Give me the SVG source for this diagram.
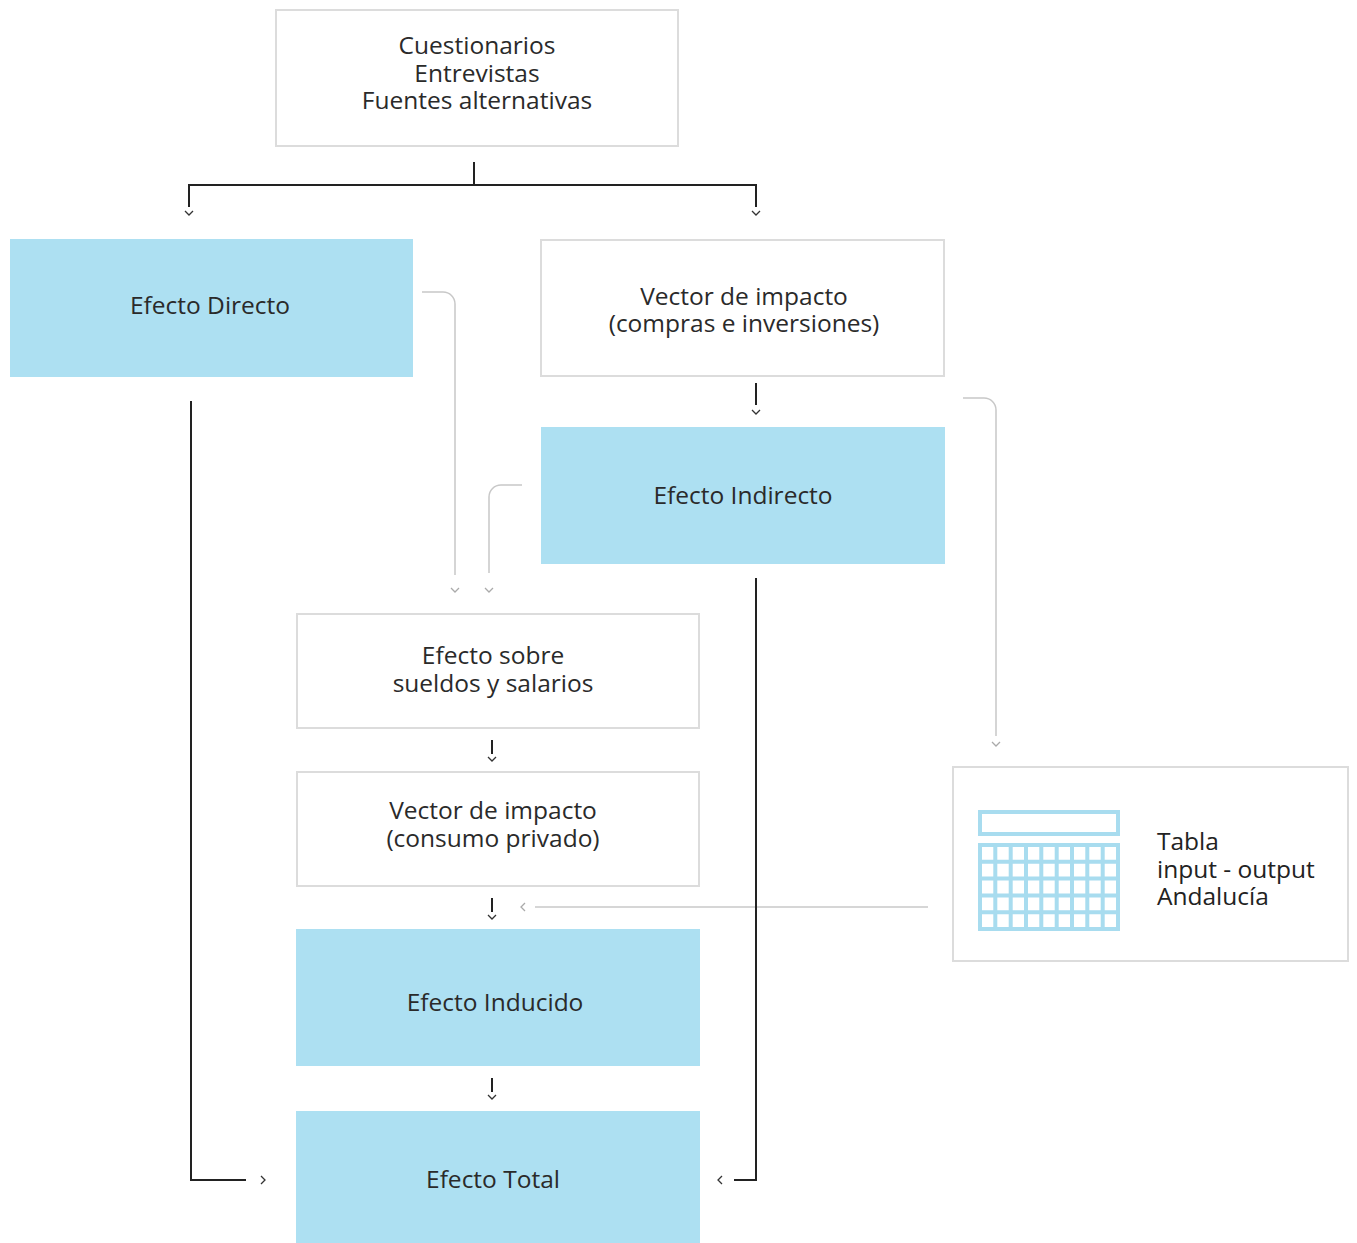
<svg xmlns="http://www.w3.org/2000/svg" width="1357" height="1243" viewBox="0 0 1357 1243">
<style>
.box{fill:#fff;stroke:#dcdcdc;stroke-width:2}
.blue{fill:#ade0f2}
.t{font-family:"Open Sans",Lato,sans-serif;font-size:24.5px;fill:#2a2a2a;text-anchor:middle}
.tl{font-family:"Open Sans",Lato,sans-serif;font-size:24.5px;fill:#222}
.dk{fill:none;stroke:#222;stroke-width:2}
.gr{fill:none;stroke:#c8c8c8;stroke-width:1.5}
.chd{fill:none;stroke:#333;stroke-width:1.3}
.chg{fill:none;stroke:#aaa;stroke-width:1.3}
.ic{fill:none;stroke:#a8dcef;stroke-width:4}
</style>
<rect width="1357" height="1243" fill="#fff"/>
<g id="connectors">
<path class="dk" d="M474 162V185M189 207V185H756V207"/>
<path class="chd" d="M185 211l4 4 4-4M752 211l4 4 4-4"/>
<path class="dk" d="M756 383V405"/>
<path class="chd" d="M752 410l4 4 4-4"/>
<path class="gr" d="M422 292H443A12 12 0 0 1 455 304V575"/>
<path class="chg" d="M451 588l4 4 4-4"/>
<path class="gr" d="M522 485H501A12 12 0 0 0 489 497V573"/>
<path class="chg" d="M485 588l4 4 4-4"/>
<path class="gr" d="M963 398H984A12 12 0 0 1 996 410V736"/>
<path class="chg" d="M992 742l4 4 4-4"/>
<path class="dk" d="M492 740V754"/>
<path class="chd" d="M488 757l4 4 4-4"/>
<path class="dk" d="M492 898V912"/>
<path class="chd" d="M488 915l4 4 4-4"/>
<path class="gr" d="M928 907H535"/>
<path class="chg" d="M525 903l-4 4 4 4"/>
<path class="dk" d="M492 1078V1092"/>
<path class="chd" d="M488 1095l4 4 4-4"/>
<path class="dk" d="M191 401V1180H246"/>
<path class="chd" d="M261 1176l4 4-4 4"/>
<path class="dk" d="M756 578V1180H734"/>
<path class="chd" d="M722 1176l-4 4 4 4"/>
</g>
<g id="fuentes">
<rect class="box" x="276" y="10" width="402" height="136"/>
<text class="t" x="477" y="54">Cuestionarios</text>
<text class="t" x="477" y="81.5">Entrevistas</text>
<text class="t" x="477" y="109">Fuentes alternativas</text>
</g>
<g id="efecto-directo">
<rect class="blue" x="10" y="239" width="403" height="138"/>
<text class="t" x="210" y="314">Efecto Directo</text>
</g>
<g id="vector-compras">
<rect class="box" x="541" y="240" width="403" height="136"/>
<text class="t" x="744" y="305">Vector de impacto</text>
<text class="t" x="744" y="332">(compras e inversiones)</text>
</g>
<g id="efecto-indirecto">
<rect class="blue" x="541" y="427" width="404" height="137"/>
<text class="t" x="743" y="504">Efecto Indirecto</text>
</g>
<g id="sueldos">
<rect class="box" x="297" y="614" width="402" height="114"/>
<text class="t" x="493" y="664">Efecto sobre</text>
<text class="t" x="493" y="692">sueldos y salarios</text>
</g>
<g id="vector-consumo">
<rect class="box" x="297" y="772" width="402" height="114"/>
<text class="t" x="493" y="819">Vector de impacto</text>
<text class="t" x="493" y="847">(consumo privado)</text>
</g>
<g id="efecto-inducido">
<rect class="blue" x="296" y="929" width="404" height="137"/>
<text class="t" x="495" y="1011">Efecto Inducido</text>
</g>
<g id="efecto-total">
<rect class="blue" x="296" y="1111" width="404" height="140"/>
<text class="t" x="493" y="1188">Efecto Total</text>
</g>
<g id="tabla">
<rect class="box" x="953" y="767" width="395" height="194"/>
<rect class="ic" x="980" y="812" width="138" height="22"/>
<rect class="ic" x="980" y="845" width="138" height="84"/>
<path class="ic" d="M995.3 845V929M1010.7 845V929M1026 845V929M1041.3 845V929M1056.7 845V929M1072 845V929M1087.3 845V929M1102.7 845V929M980 861.8H1118M980 878.6H1118M980 895.4H1118M980 912.2H1118"/>
<text class="tl" x="1157" y="850">Tabla</text>
<text class="tl" x="1157" y="878">input - output</text>
<text class="tl" x="1157" y="905">Andalucía</text>
</g>
</svg>
